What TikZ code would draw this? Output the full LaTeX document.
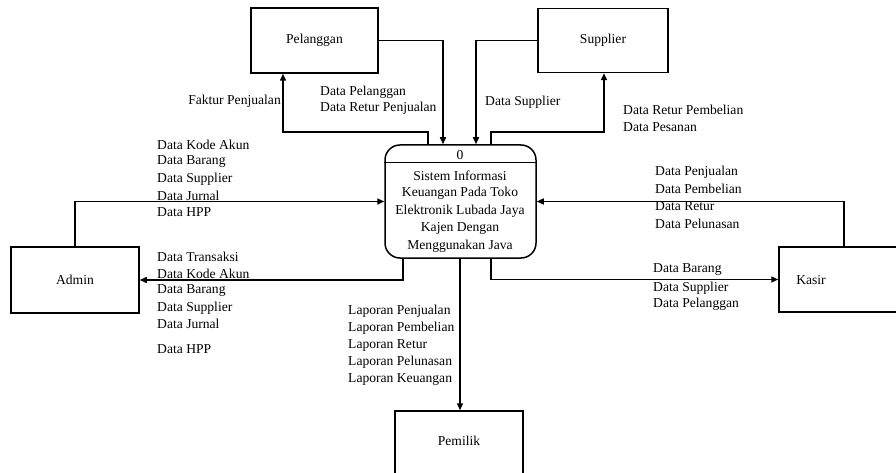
\documentclass[tikz,border=0pt]{standalone}
\usepackage{fontspec}
\setmainfont{Liberation Serif}
\usetikzlibrary{arrows.meta}
\begin{document}
\begin{tikzpicture}[x=1pt,y=-1pt,
  ent/.style={draw,line width=1.5pt,minimum width=#1,inner sep=0pt},
  flow/.style={draw,line width=1.5pt,-{Triangle[length=7pt,width=6pt]}},
  lbl/.style={anchor=west,inner sep=0pt,font=\fontsize{13.6}{15}\selectfont},
  ctr/.style={inner sep=0pt,font=\fontsize{13.6}{15}\selectfont}]
\useasboundingbox (0,0) rectangle (896,473);
% entities
\node[ent=127pt,minimum height=65pt,font=\fontsize{13.6}{15}\selectfont] (pel) at (314.5,40.5) {Pelanggan};
\node[ent=130pt,minimum height=64pt,font=\fontsize{13.6}{15}\selectfont] (sup) at (603,40.5) {Supplier};
\node[ent=128pt,minimum height=66pt,font=\fontsize{13.6}{15}\selectfont] (admin) at (75,280) {Admin};
\node[ent=122pt,minimum height=65pt] (kasir) at (840,279.5) {};
\node[ctr] (kasirt) at (811,280) {Kasir};
\node[ent=128pt,minimum height=67pt] (pemilik) at (459,444.5) {};
\node[ctr] (pemilikt) at (459,441) {Pemilik};
% process
\node[draw,line width=1.5pt,rounded corners=15pt,minimum width=151pt,minimum height=113pt] (proc) at (460.5,201.5) {};
\draw[line width=1pt] (proc.west |- 0,163) coordinate (dl) -- (proc.east |- 0,163) coordinate (dr);
\node[ctr] (pnum) at (460,155) {0};
\node[ctr] (p1) at (460,176) {Sistem Informasi};
\node[ctr] (p2) at (460,193.5) {Keuangan Pada Toko};
\node[ctr] (p3) at (460,211) {Elektronik Lubada Jaya};
\node[ctr] (p4) at (460,228.5) {Kajen Dengan};
\node[ctr] (p5) at (460,246) {Menggunakan Java};
% flows
\draw[flow] (pel.east) -| ([xshift=-17.5pt]proc.north);
\draw[flow] ([xshift=-32.5pt]proc.north) -- ++(0,-12) -| ([xshift=-31.5pt]pel.south);
\draw[flow] (sup.west) -| ([xshift=15.5pt]proc.north);
\draw[flow] ([xshift=30.5pt]proc.north) -- ++(0,-12) -| ([xshift=1pt]sup.south);
\draw[flow] (admin.north) |- (proc.west);
\draw[flow] ([xshift=-57.5pt]proc.south) |- (admin.east);
\draw[flow] ([xshift=4pt]kasir.north) |- (proc.east);
\draw[flow] ([xshift=30.5pt]proc.south) |- (kasir.west);
\draw[flow] ([xshift=-0.5pt]proc.south) -- ([xshift=1pt]pemilik.north);
% labels
\node[lbl,anchor=east] (l1) at (281,101) {Faktur Penjualan};
\node[lbl] (l2) at (320,92) {Data Pelanggan};
\node[lbl] (l3) at (320,108) {Data Retur Penjualan};
\node[lbl] (l4) at (485,102) {Data Supplier};
\node[lbl] (l5) at (623,110) {Data Retur Pembelian};
\node[lbl] (l6) at (623,127) {Data Pesanan};
\node[lbl] (a1) at (157,145) {Data Kode Akun};
\node[lbl] (a2) at (157,162) {Data Barang};
\node[lbl] (a3) at (157,179) {Data Supplier};
\node[lbl] (a4) at (157,196) {Data Jurnal};
\node[lbl] (a5) at (157,212) {Data HPP};
\node[lbl] (b1) at (157,257) {Data Transaksi};
\node[lbl] (b2) at (157,274) {Data Kode Akun};
\node[lbl] (b3) at (157,291) {Data Barang};
\node[lbl] (b4) at (157,308) {Data Supplier};
\node[lbl] (b5) at (157,324) {Data Jurnal};
\node[lbl] (b6) at (157,349) {Data HPP};
\node[lbl] (c1) at (655,172) {Data Penjualan};
\node[lbl] (c2) at (655,189) {Data Pembelian};
\node[lbl] (c3) at (655,206) {Data Retur};
\node[lbl] (c4) at (655,224) {Data Pelunasan};
\node[lbl] (d1) at (653,270) {Data Barang};
\node[lbl] (d2) at (653,288) {Data Supplier};
\node[lbl] (d3) at (653,304) {Data Pelanggan};
\node[lbl] (e1) at (348,311) {Laporan Penjualan};
\node[lbl] (e2) at (348,328) {Laporan Pembelian};
\node[lbl] (e3) at (348,345) {Laporan Retur};
\node[lbl] (e4) at (348,362) {Laporan Pelunasan};
\node[lbl] (e5) at (348,380) {Laporan Keuangan};
\end{tikzpicture}
\end{document}
